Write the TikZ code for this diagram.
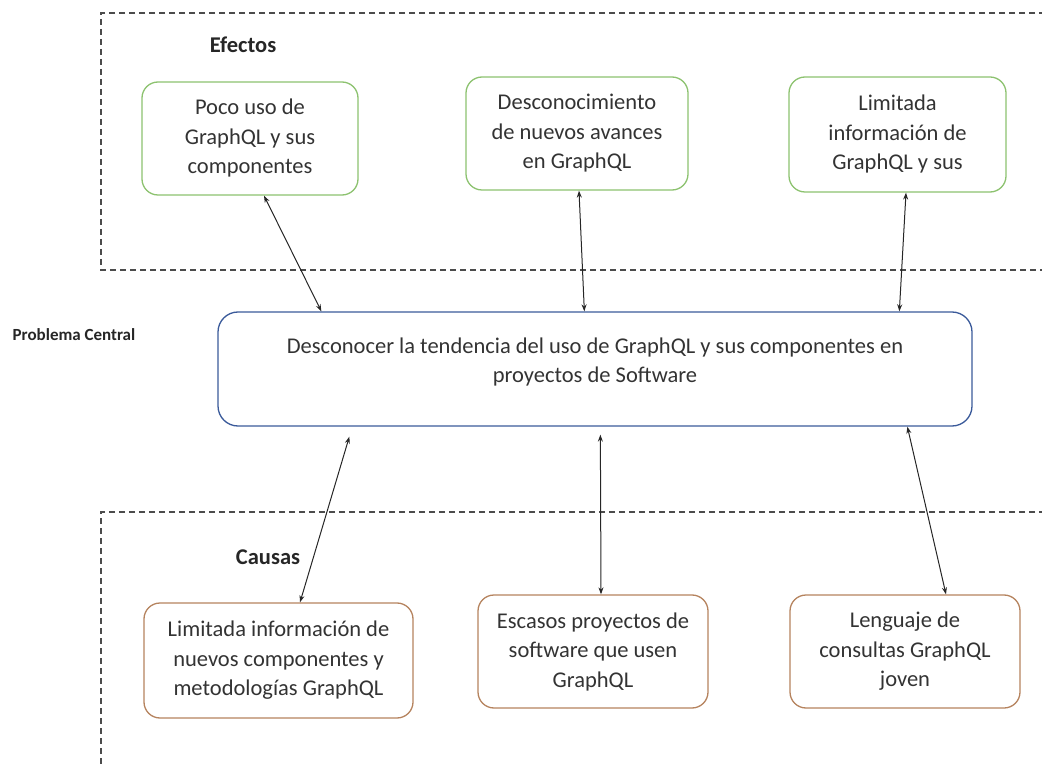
\documentclass[tikz,border=0pt]{standalone}
\usepackage{fontspec}
\setmainfont{Carlito}
\usetikzlibrary{arrows.meta}
\definecolor{effgreen}{HTML}{8CC26F}
\definecolor{probblue}{HTML}{3A5A9A}
\definecolor{causebrown}{HTML}{B5835E}
\definecolor{txt}{HTML}{333333}
\tikzset{
  box/.style={draw, rounded corners=16pt, line width=1.3pt, align=center, text=txt,
    font=\fontsize{22.5}{29.5}\selectfont, inner sep=0pt},
  effect/.style={box, draw=effgreen},
  cause/.style={box, draw=causebrown},
  central/.style={box, draw=probblue, rounded corners=20pt},
  frame/.style={draw=black!70, dashed, dash pattern=on 6pt off 4pt, line width=1.1pt},
  link/.style={draw=black!85, line width=1pt, {Stealth[length=7pt,width=5pt]}-{Stealth[length=7pt,width=5pt]}},
  heading/.style={font=\bfseries\fontsize{22.5}{26}\selectfont, text=black!85}
}
\begin{document}
\begin{tikzpicture}[x=1pt,y=-1pt]
\useasboundingbox (0,0) rectangle (1042,767);
% dashed frames
\draw[frame] (1045,13) -- (101,13) -- (101,270) -- (1045,270);
\draw[frame] (1045,512) -- (101,512) -- (101,770);
% headings
\node[heading] (efectos) at (243,45) {Efectos};
\node[heading] (causas) at (268,557) {Causas};
\node[font=\bfseries\fontsize{17}{20}\selectfont, text=black!85] (problema) at (74,335) {Problema Central};
% effect boxes
\node[effect, minimum width=216pt, minimum height=113pt] (e1) at (250,138.5) {Poco uso de\\GraphQL y sus\\componentes};
\node[effect, minimum width=222pt, minimum height=113pt] (e2) at (577,133.5) {Desconocimiento\\de nuevos avances\\en GraphQL};
\node[effect, minimum width=217pt, minimum height=115pt] (e3) at (897.5,134.5) {Limitada\\información de\\GraphQL y sus};
% central
\node[central, minimum width=754pt, minimum height=114pt] (c) at (595,369) {};
\node[align=center, text=txt, font=\fontsize{22.5}{29.5}\selectfont, inner sep=0pt] (ctext) at (595,362) {Desconocer la tendencia del uso de GraphQL y sus componentes en\\proyectos de Software};
% cause boxes
\node[cause, minimum width=269pt, minimum height=115pt] (k1) at (278.5,660.5) {Limitada información de\\nuevos componentes y\\metodologías GraphQL};
\node[cause, minimum width=230pt, minimum height=113pt] (k2) at (593,651.5) {Escasos proyectos de\\software que usen\\GraphQL};
\node[cause, minimum width=230pt, minimum height=113pt] (k3) at (905,651.5) {Lenguaje de\\consultas GraphQL\\joven};
% connector end points
\path (e1.south) ++(14,0) coordinate (e1b);
\path (c.north west) ++(104,0) coordinate (c1t);
\path (e2.south) ++(2,0) coordinate (e2b);
\path (c.north west) ++(367,0) coordinate (c2t);
\path (e3.south) ++(8.5,0) coordinate (e3b);
\path (c.north west) ++(682,0) coordinate (c3t);
\path (c.south west) ++(132,10) coordinate (c1b);
\path (c.south west) ++(383,8) coordinate (c2b);
\path (c.south west) ++(690,0) coordinate (c3b);
\path (k1.north) ++(21.5,0) coordinate (k1t);
\path (k2.north) ++(8,0) coordinate (k2t);
\path (k3.north) ++(41,0) coordinate (k3t);
\draw[link] (e1b) -- (c1t);
\draw[link] (e2b) -- (c2t);
\draw[link] (e3b) -- (c3t);
\draw[link] (c1b) -- (k1t);
\draw[link] (c2b) -- (k2t);
\draw[link] (c3b) -- (k3t);
\end{tikzpicture}
\end{document}
